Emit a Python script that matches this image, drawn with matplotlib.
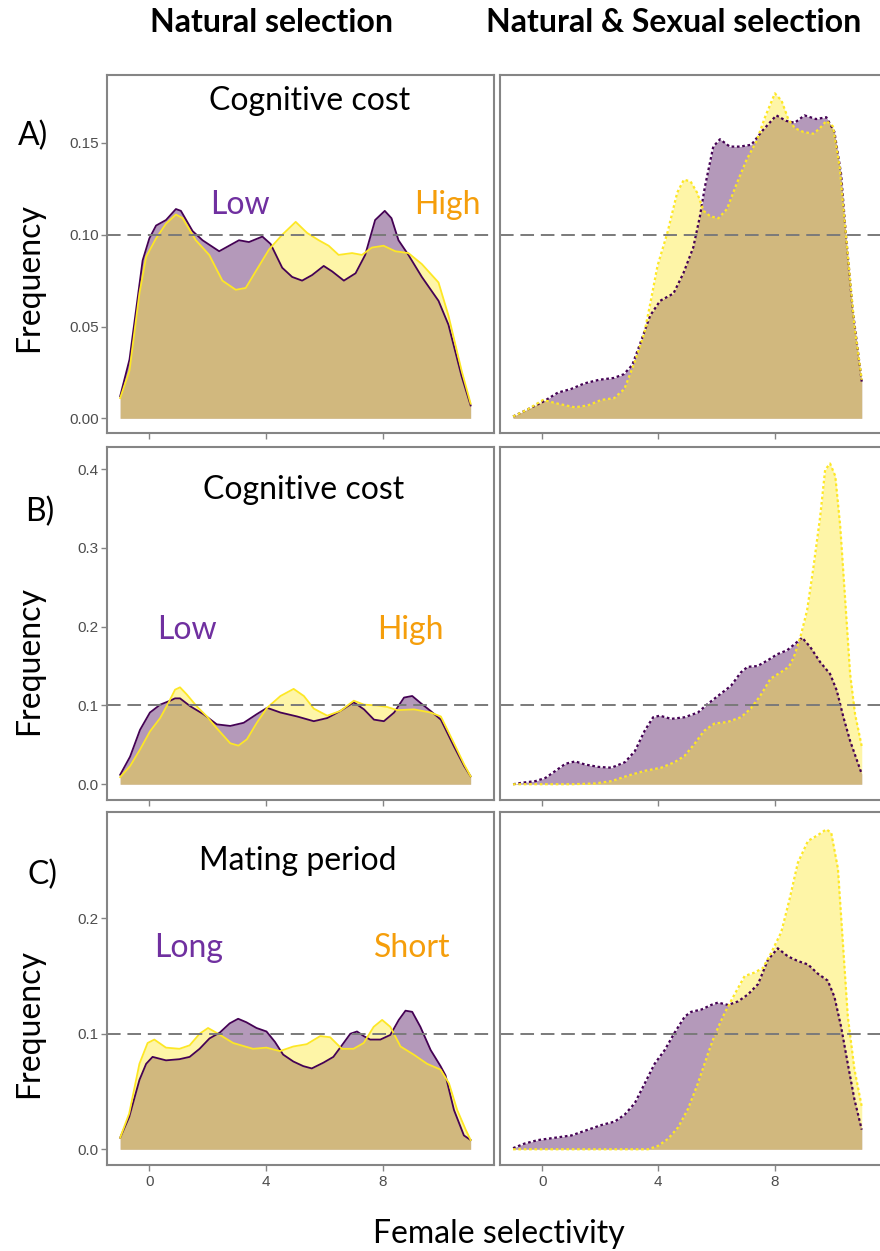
import matplotlib
matplotlib.use("Agg")
import matplotlib.pyplot as plt

W, H = 880, 1251

# ---------------- data: density of female selectivity ----------------
# Row A: cognitive cost (Low vs High)
a_ns_low_x = [-1.0, -0.68, -0.23, 0.0, 0.23, 0.57, 0.91, 1.08, 1.48, 1.82, 2.39, 3.07, 3.41, 3.87, 4.15,
              4.55, 4.89, 5.23, 5.57, 5.97, 6.26, 6.66, 7.06, 7.39, 7.73, 8.06, 8.29, 8.53, 8.87, 9.33,
              9.90, 10.24, 10.69, 11.0]
a_ns_low_y = [0.012, 0.032, 0.086, 0.098, 0.105, 0.108, 0.114, 0.113, 0.102, 0.097, 0.091, 0.097, 0.096,
              0.099, 0.095, 0.082, 0.077, 0.075, 0.078, 0.083, 0.080, 0.075, 0.079, 0.089, 0.108, 0.113,
              0.109, 0.097, 0.089, 0.077, 0.064, 0.051, 0.023, 0.007]
a_ns_high_x = [-1.0, -0.68, -0.34, -0.11, 0.23, 0.57, 0.91, 1.14, 1.59, 2.05, 2.50, 2.96, 3.30, 3.64, 4.10,
               4.55, 5.01, 5.40, 5.80, 6.14, 6.48, 6.94, 7.28, 7.62, 8.02, 8.42, 8.87, 9.33, 9.90, 10.24,
               10.69, 11.0]
a_ns_high_y = [0.011, 0.026, 0.068, 0.088, 0.098, 0.106, 0.111, 0.109, 0.097, 0.089, 0.075, 0.070, 0.071,
               0.080, 0.092, 0.100, 0.107, 0.101, 0.097, 0.094, 0.089, 0.090, 0.089, 0.093, 0.094, 0.091,
               0.090, 0.084, 0.074, 0.056, 0.026, 0.008]
a_ss_low_x = [-1.0, -0.48, 0.03, 0.54, 1.0, 1.45, 1.96, 2.47, 2.81, 3.10, 3.38, 3.72, 4.06, 4.52, 4.86,
              5.20, 5.43, 5.60, 5.89, 6.12, 6.46, 6.80, 7.20, 7.60, 8.06, 8.40, 8.69, 9.03, 9.43, 9.78,
              10.06, 10.29, 10.46, 10.69, 11.0]
a_ss_low_y = [0.001, 0.005, 0.009, 0.014, 0.016, 0.019, 0.021, 0.022, 0.024, 0.029, 0.041, 0.056, 0.064,
              0.068, 0.079, 0.093, 0.110, 0.126, 0.148, 0.152, 0.148, 0.148, 0.149, 0.157, 0.165, 0.162,
              0.161, 0.165, 0.163, 0.164, 0.156, 0.133, 0.099, 0.059, 0.020]
a_ss_high_x = [-1.0, -0.48, 0.03, 0.54, 1.12, 1.57, 2.03, 2.48, 2.83, 3.17, 3.51, 3.74, 3.97, 4.31, 4.65,
               4.88, 5.11, 5.33, 5.56, 5.79, 6.07, 6.36, 6.70, 7.04, 7.38, 7.67, 8.01, 8.24, 8.47, 8.70,
               8.99, 9.33, 9.56, 9.78, 10.01, 10.24, 10.46, 10.75, 11.0]
a_ss_high_y = [0.001, 0.005, 0.010, 0.008, 0.006, 0.007, 0.010, 0.011, 0.016, 0.030, 0.046, 0.064, 0.083,
               0.101, 0.123, 0.130, 0.129, 0.123, 0.113, 0.110, 0.109, 0.114, 0.128, 0.141, 0.151, 0.164,
               0.177, 0.173, 0.163, 0.158, 0.156, 0.155, 0.158, 0.162, 0.159, 0.137, 0.099, 0.050, 0.021]

# Row B: cognitive cost (Low vs High)
b_ns_low_x = [-1.0, -0.66, -0.32, 0.02, 0.37, 0.71, 0.88, 1.05, 1.40, 1.85, 2.31, 2.77, 3.23, 3.68, 4.03,
              4.49, 5.06, 5.63, 6.09, 6.54, 7.0, 7.35, 7.69, 8.03, 8.38, 8.72, 9.0, 9.29, 9.63, 9.98,
              10.43, 10.78, 11.0]
b_ns_low_y = [0.012, 0.035, 0.069, 0.091, 0.101, 0.106, 0.109, 0.109, 0.099, 0.089, 0.076, 0.074, 0.078,
              0.089, 0.097, 0.091, 0.086, 0.080, 0.084, 0.093, 0.104, 0.095, 0.082, 0.080, 0.091, 0.110,
              0.112, 0.103, 0.093, 0.082, 0.048, 0.023, 0.010]
b_ns_high_x = [-1.0, -0.66, -0.32, 0.02, 0.37, 0.65, 0.88, 1.05, 1.28, 1.62, 1.97, 2.31, 2.77, 3.05, 3.34,
               3.68, 4.03, 4.49, 4.94, 5.29, 5.63, 6.09, 6.54, 7.0, 7.35, 7.80, 8.15, 8.49, 9.06, 9.63,
               9.98, 10.43, 10.78, 11.0]
b_ns_high_y = [0.009, 0.023, 0.044, 0.067, 0.084, 0.103, 0.120, 0.123, 0.114, 0.099, 0.086, 0.071, 0.052,
               0.049, 0.057, 0.078, 0.097, 0.112, 0.121, 0.112, 0.096, 0.087, 0.093, 0.106, 0.101, 0.100,
               0.098, 0.094, 0.095, 0.091, 0.086, 0.052, 0.025, 0.010]
b_ss_low_x = [-1.0, -0.68, -0.23, 0.11, 0.46, 0.80, 1.14, 1.48, 1.94, 2.39, 2.85, 3.19, 3.53, 3.82, 4.05,
              4.44, 4.90, 5.36, 5.70, 6.15, 6.50, 6.84, 7.07, 7.41, 7.75, 8.09, 8.43, 8.66, 8.95, 9.23,
              9.57, 9.91, 10.14, 10.37, 10.60, 11.0]
b_ss_low_y = [0.0, 0.002, 0.004, 0.008, 0.017, 0.026, 0.029, 0.025, 0.022, 0.021, 0.028, 0.042, 0.068,
              0.085, 0.087, 0.083, 0.085, 0.091, 0.102, 0.115, 0.125, 0.142, 0.149, 0.150, 0.157, 0.165,
              0.170, 0.177, 0.186, 0.174, 0.155, 0.140, 0.119, 0.085, 0.055, 0.013]
b_ss_high_x = [-1.0, -0.11, 1.03, 1.82, 2.39, 2.96, 3.53, 4.10, 4.56, 4.90, 5.24, 5.58, 5.93, 6.38, 6.84,
               7.18, 7.52, 7.86, 8.21, 8.49, 8.66, 8.89, 9.12, 9.34, 9.57, 9.74, 9.91, 10.09, 10.26,
               10.43, 10.60, 10.77, 11.0]
b_ss_high_y = [0.0, 0.0, 0.0, 0.001, 0.004, 0.011, 0.017, 0.021, 0.028, 0.036, 0.051, 0.068, 0.077, 0.079,
               0.085, 0.096, 0.113, 0.134, 0.142, 0.149, 0.161, 0.187, 0.221, 0.276, 0.340, 0.399, 0.407,
               0.391, 0.327, 0.234, 0.140, 0.089, 0.048]

# Row C: mating period (Long vs Short)
c_ns_long_x = [-1.0, -0.69, -0.34, -0.11, 0.11, 0.57, 1.03, 1.38, 1.72, 2.06, 2.41, 2.75, 3.04, 3.32, 3.67,
               4.01, 4.30, 4.58, 4.93, 5.27, 5.56, 5.96, 6.30, 6.65, 6.88, 7.11, 7.34, 7.56, 7.91, 8.25,
               8.54, 8.77, 9.0, 9.28, 9.63, 9.97, 10.14, 10.43, 10.77, 11.0]
c_ns_long_y = [0.010, 0.028, 0.060, 0.074, 0.080, 0.077, 0.078, 0.080, 0.087, 0.096, 0.101, 0.109, 0.113,
               0.110, 0.105, 0.102, 0.093, 0.082, 0.076, 0.072, 0.070, 0.075, 0.080, 0.092, 0.100, 0.102,
               0.098, 0.095, 0.095, 0.099, 0.112, 0.120, 0.119, 0.106, 0.086, 0.072, 0.064, 0.034, 0.012,
               0.008]
c_ns_short_x = [-1.0, -0.69, -0.34, -0.06, 0.17, 0.57, 1.03, 1.38, 1.72, 2.01, 2.29, 2.87, 3.55, 4.01, 4.47,
                4.93, 5.39, 5.85, 6.19, 6.59, 6.99, 7.34, 7.68, 7.97, 8.25, 8.60, 9.05, 9.51, 9.97, 10.26,
                10.54, 10.83, 11.0]
c_ns_short_y = [0.010, 0.031, 0.074, 0.092, 0.095, 0.088, 0.087, 0.090, 0.100, 0.105, 0.101, 0.092, 0.087,
                0.088, 0.085, 0.089, 0.091, 0.098, 0.097, 0.087, 0.087, 0.092, 0.106, 0.112, 0.106, 0.089,
                0.082, 0.074, 0.069, 0.057, 0.034, 0.017, 0.008]
c_ss_long_x = [-1.0, -0.60, -0.14, 0.44, 1.01, 1.58, 2.04, 2.50, 2.84, 3.19, 3.53, 3.87, 4.22, 4.56, 4.91,
               5.13, 5.48, 5.82, 6.05, 6.40, 6.74, 7.08, 7.43, 7.77, 8.11, 8.46, 8.80, 9.15, 9.49, 9.83,
               10.06, 10.29, 10.52, 10.75, 11.0]
c_ss_long_y = [0.001, 0.005, 0.008, 0.010, 0.012, 0.017, 0.021, 0.024, 0.030, 0.040, 0.057, 0.074, 0.086,
               0.101, 0.115, 0.119, 0.121, 0.125, 0.127, 0.125, 0.128, 0.134, 0.143, 0.164, 0.174, 0.167,
               0.163, 0.160, 0.152, 0.146, 0.132, 0.106, 0.074, 0.043, 0.017]
c_ss_short_x = [-1.0, 3.64, 3.99, 4.33, 4.68, 5.02, 5.36, 5.71, 5.94, 6.28, 6.62, 6.97, 7.31, 7.60, 7.88,
                8.23, 8.52, 8.80, 9.15, 9.49, 9.78, 9.95, 10.18, 10.35, 10.52, 10.75, 11.0]
c_ss_short_y = [0.0, 0.0, 0.003, 0.009, 0.019, 0.035, 0.057, 0.083, 0.099, 0.118, 0.134, 0.150, 0.153,
                0.157, 0.170, 0.188, 0.217, 0.248, 0.267, 0.272, 0.277, 0.274, 0.243, 0.179, 0.115, 0.069,
                0.037]

x_ticks = [0, 4, 8]
row_yticks = [[0.00, 0.05, 0.10, 0.15], [0.0, 0.1, 0.2, 0.3, 0.4], [0.0, 0.1, 0.2]]
row_ytick_labels = [["0.00", "0.05", "0.10", "0.15"], ["0.0", "0.1", "0.2", "0.3", "0.4"],
                    ["0.0", "0.1", "0.2"]]
row_ylims = [(-0.008, 0.187), (-0.02, 0.428), (-0.0136, 0.292)]
row_titles = ["Cognitive cost", "Cognitive cost", "Mating period"]
row_letters = ["A)", "B)", "C)"]
row_groups = [("Low", "High"), ("Low", "High"), ("Long", "Short")]
col_titles = ["Natural selection", "Natural & Sexual selection"]
reference_freq = 0.1

panels = [
    [((a_ns_low_x, a_ns_low_y), (a_ns_high_x, a_ns_high_y)),
     ((a_ss_low_x, a_ss_low_y), (a_ss_high_x, a_ss_high_y))],
    [((b_ns_low_x, b_ns_low_y), (b_ns_high_x, b_ns_high_y)),
     ((b_ss_low_x, b_ss_low_y), (b_ss_high_x, b_ss_high_y))],
    [((c_ns_long_x, c_ns_long_y), (c_ns_short_x, c_ns_short_y)),
     ((c_ss_long_x, c_ss_long_y), (c_ss_short_x, c_ss_short_y))],
]

# ---------------- styling ----------------
PURPLE = "#440154"
YELLOW = "#FDE725"
FILL_ALPHA = 0.4
BORDER = "#858585"
TICKLAB = "#4d4d4d"
LABEL_PURPLE = "#7030a0"
LABEL_ORANGE = "#f59e0b"
TXT_FONT = ["Lato", "DejaVu Sans"]
TICK_FONT = ["Liberation Sans", "DejaVu Sans"]
BIG = 23

fig = plt.figure(figsize=(W / 100, H / 100), dpi=100)


def fx(px):
    return px / W


def fy(py):
    return 1 - py / H


# pixel extents (top, bottom) per row and (left, right) per column
row_boxes = [(75, 433), (447, 800), (812, 1165)]
col_boxes = [(107, 494), (500, 885)]
xlim = (-1.45, 11.8)

for r, (top, bot) in enumerate(row_boxes):
    for c, (left, right) in enumerate(col_boxes):
        ax = fig.add_axes([fx(left), fy(bot), fx(right) - fx(left), (bot - top) / H])
        (x1, y1), (x2, y2) = panels[r][c]
        ls = "-" if c == 0 else (0, (1.2, 1.2))
        lw = 1.3 if c == 0 else 1.6
        ax.fill_between(x1, 0, y1, color=PURPLE, alpha=FILL_ALPHA, linewidth=0)
        ax.plot(x1, y1, color=PURPLE, lw=lw, ls=ls)
        ax.fill_between(x2, 0, y2, color=YELLOW, alpha=FILL_ALPHA, linewidth=0)
        ax.plot(x2, y2, color=YELLOW, lw=lw, ls=ls)
        ax.axhline(reference_freq, color="#7a7a7a", lw=1.4, ls=(0, (7, 3.5)))
        ax.set_xlim(*xlim)
        ax.set_ylim(*row_ylims[r])
        for s in ax.spines.values():
            s.set_color(BORDER)
            s.set_linewidth(1.5)
        ax.set_xticks(x_ticks)
        ax.tick_params(axis="x", length=4, width=1, color=BORDER, labelsize=11,
                       labelcolor=TICKLAB, pad=3)
        if r == 2:
            ax.set_xticklabels([str(t) for t in x_ticks], fontfamily=TICK_FONT)
        else:
            ax.set_xticklabels([])
        if c == 0:
            ax.set_yticks(row_yticks[r])
            ax.set_yticklabels(row_ytick_labels[r], fontfamily=TICK_FONT)
            ax.tick_params(axis="y", length=4, width=1, color=BORDER, labelsize=11,
                           labelcolor=TICKLAB, pad=2)
        else:
            ax.set_yticks([])

# column headers
fig.text(fx(272), fy(32), col_titles[0], ha="center", va="baseline", fontsize=BIG,
         fontweight="bold", family=TXT_FONT)
fig.text(fx(674), fy(32), col_titles[1], ha="center", va="baseline", fontsize=BIG,
         fontweight="bold", family=TXT_FONT)

# row annotations
title_pos = [(310, 110), (304, 499), (298, 870)]
group_pos = [((240, 214), (447, 214)), ((187, 639), (410, 639)), ((189, 957), (412, 957))]
letter_pos = [(33, 136), (40, 512), (42, 875)]
freq_pos = [(29, 277), (29, 660), (29, 1023)]
for r in range(3):
    tx, ty = title_pos[r]
    fig.text(fx(tx), fy(ty), row_titles[r], ha="center", va="baseline", fontsize=BIG,
             family=TXT_FONT)
    (lx, ly), (hx, hy) = group_pos[r]
    fig.text(fx(lx), fy(ly), row_groups[r][0], ha="center", va="baseline", fontsize=BIG,
             color=LABEL_PURPLE, family=TXT_FONT)
    fig.text(fx(hx), fy(hy), row_groups[r][1], ha="center", va="baseline", fontsize=BIG,
             color=LABEL_ORANGE, family=TXT_FONT)
    ax_, ay_ = letter_pos[r]
    fig.text(fx(ax_), fy(ay_), row_letters[r], ha="center", va="center", fontsize=BIG,
             family=TXT_FONT)
    qx, qy = freq_pos[r]
    fig.text(fx(qx), fy(qy), "Frequency", ha="center", va="center", rotation=90, fontsize=BIG,
             family=TXT_FONT)

fig.text(fx(499), fy(1243), "Female selectivity", ha="center", va="baseline", fontsize=BIG,
         family=TXT_FONT)

fig.savefig("out.png", dpi=100)
